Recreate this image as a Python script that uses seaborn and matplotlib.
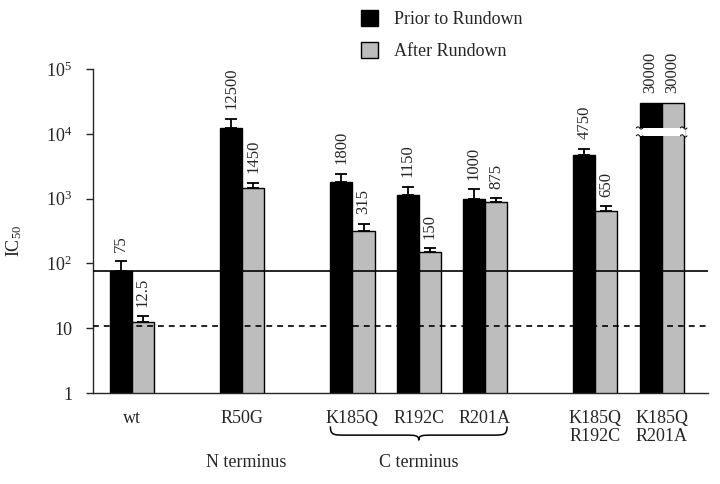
import numpy as np
import pandas as pd
import matplotlib
matplotlib.use("Agg")
import matplotlib.pyplot as plt
from matplotlib.patches import Patch, PathPatch
from matplotlib.path import Path
from matplotlib.ticker import NullLocator
import matplotlib.transforms as mtransforms
import seaborn as sns

# dados
mutants = ["wt", "R50G", "K185Q", "R192C", "R201A", "K185Q\nR192C", "K185Q\nR201A"]
prior = [75, 12500, 1800, 1150, 1000, 4750, 30000]
after = [12.5, 1450, 315, 150, 875, 650, 30000]
prior_err_top = [108, 17000, 2420, 1530, 1390, 5900, np.nan]
after_err_top = [15.3, 1760, 412, 170, 1010, 760, np.nan]
prior_labels = ["75", "12500", "1800", "1150", "1000", "4750", "30000"]
after_labels = ["12.5", "1450", "315", "150", "875", "650", "30000"]
conditions = ["Prior to Rundown", "After Rundown"]
wt_ref = 75
dashed_ref = 11

# layout (posição dos grupos no eixo x)
positions = [0, 10, 20, 26, 32, 42, 48]
break_lo, break_hi = 9300, 12300

sns.set_style("white")
plt.rcParams["font.family"] = ["Liberation Serif", "DejaVu Serif"]
plt.rcParams["mathtext.fontset"] = "custom"
plt.rcParams["mathtext.rm"] = "Liberation Serif"
plt.rcParams["mathtext.it"] = "Liberation Serif:italic"
plt.rcParams["mathtext.default"] = "regular"

df = pd.DataFrame({
    "pos": positions * 2,
    "value": prior + after,
    "condition": [conditions[0]] * len(prior) + [conditions[1]] * len(after),
})

fig = plt.figure(figsize=(7.2, 4.84), dpi=100)
ax = fig.add_axes([93 / 720, 1 - 393 / 484, 615 / 720, 324 / 484])
ax.set_yscale("log")

colors = ["black", "#bdbdbd"]
sns.barplot(data=df, x="pos", y="value", hue="condition", hue_order=conditions,
            native_scale=True, width=4 / 6, palette=colors, errorbar=None,
            edgecolor="black", linewidth=1, legend=False, ax=ax)

ax.set_ylim(1, 1e5)
ax.set_xlim(-3.5, 52.2)

# barras de erro (só para cima) e rótulos
for cont, tops, labs in zip(ax.containers, [prior_err_top, after_err_top],
                            [prior_labels, after_labels]):
    for bar, top, lab in zip(cont, tops, labs):
        xc = bar.get_x() + bar.get_width() / 2
        h = bar.get_height()
        if not np.isnan(top):
            ax.errorbar([xc], [h], yerr=[[0], [top - h]], fmt="none", ecolor="black",
                        elinewidth=1.3, capsize=4, capthick=1.3, zorder=4)
            ytxt = top
        else:
            ytxt = h
        ax.annotate(lab, (xc, ytxt), xytext=(0, 7), textcoords="offset points",
                    rotation=90, ha="center", va="bottom", fontsize=12)

# linhas de referência
ax.axhline(wt_ref, color="black", lw=1.2, zorder=5)
ax.axhline(dashed_ref, color="black", lw=1.2, ls=(0, (3.5, 3)), zorder=5)

# quebra nas barras de 30000
last = [ax.containers[0][-1], ax.containers[1][-1]]
x0 = last[0].get_x()
x1 = last[1].get_x() + last[1].get_width()
ax.fill_between([x0 - 0.1, x1 + 0.1], break_lo, break_hi, color="white", zorder=6, lw=0)
tt = np.linspace(0, 1, 30)
for xe in (x0, x1):
    for yb in (break_lo, break_hi):
        ax.plot(xe + 0.6 * (tt - 0.5), yb * (1 + 0.04 * np.sin(tt * 2 * np.pi)),
                color="black", lw=0.7, zorder=7)

# eixos
sns.despine(ax=ax)
ax.spines["left"].set_linewidth(1)
ax.spines["bottom"].set_linewidth(1)
ax.set_yticks([1, 10, 100, 1e3, 1e4, 1e5])
ax.set_yticklabels(["1", "10", "10$^2$", "10$^3$", "10$^4$", "10$^5$"], fontsize=13)
ax.yaxis.set_minor_locator(NullLocator())
ax.tick_params(axis="y", direction="out", length=5, width=1, pad=10, left=True)
ax.set_xticks(positions)
ax.set_xticklabels(mutants, fontsize=13, linespacing=1.1, va="top")
ax.tick_params(axis="x", length=0, pad=12)
ax.set_xlabel("")
ax.set_ylabel("IC$_{50}$", fontsize=13)
ax.yaxis.set_label_coords(-0.112, 0.47)

# chave do C terminus
trans = mtransforms.blended_transform_factory(ax.transData, ax.transAxes)
bl = positions[2] - 2
br = positions[4] + 2
bm = (bl + br) / 2
yt, ym, yb = -0.103, -0.13, -0.146
r = 1.4
verts = [(bl, yt), (bl, ym), (bl + r * 0.2, ym), (bl + r, ym),
         (bm - r, ym), (bm - 0.2 * r, ym), (bm, ym), (bm, yb),
         (bm, ym), (bm + 0.2 * r, ym), (bm + r, ym),
         (br - r, ym), (br - 0.2 * r, ym), (br, ym), (br, yt)]
codes = [Path.MOVETO, Path.CURVE4, Path.CURVE4, Path.CURVE4,
         Path.LINETO, Path.CURVE4, Path.CURVE4, Path.CURVE4,
         Path.CURVE4, Path.CURVE4, Path.CURVE4,
         Path.LINETO, Path.CURVE4, Path.CURVE4, Path.CURVE4]
ax.add_patch(PathPatch(Path(verts, codes), transform=trans, fill=False,
                       edgecolor="black", lw=1.1, clip_on=False))

ax.text(positions[1] + 0.4, -0.215, "N terminus", transform=trans, ha="center", va="center", fontsize=13)
ax.text(positions[3], -0.215, "C terminus", transform=trans, ha="center", va="center", fontsize=13)

# legenda
handles = [Patch(facecolor=colors[0], edgecolor="black"),
           Patch(facecolor=colors[1], edgecolor="black")]
fig.legend(handles, conditions, loc="upper left", bbox_to_anchor=(361 / 720, 1 - 10 / 484),
           frameon=False, fontsize=13, handlelength=0.95, handleheight=0.95,
           handletextpad=0.9, labelspacing=0.8, borderpad=0, borderaxespad=0)

fig.savefig("out.png", dpi=100)
